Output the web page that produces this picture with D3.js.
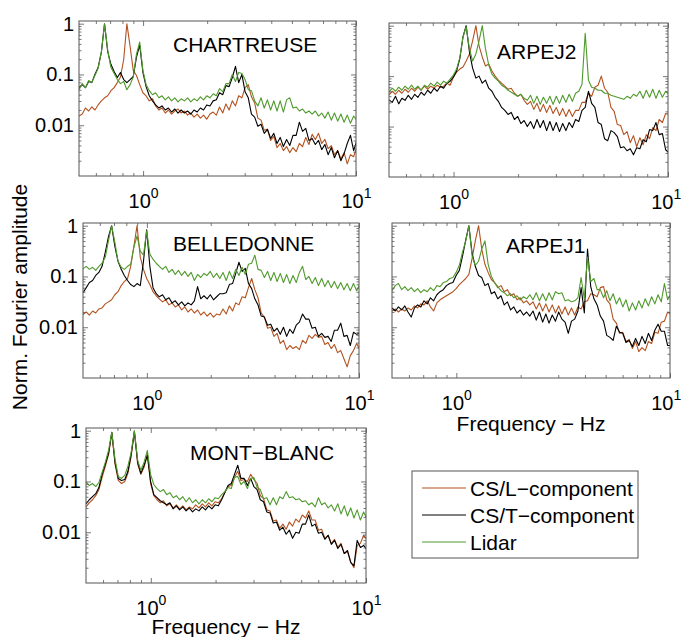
<!DOCTYPE html>
<html><head><meta charset="utf-8">
<script src="https://cdn.jsdelivr.net/npm/d3@7"></script>
<style>
body{margin:0;background:#fff}
svg{display:block}
text{font-family:"Liberation Sans",Arial,Helvetica,sans-serif;fill:#000}
</style>
</head><body>
<svg id="c" width="682" height="637"></svg>
<script>
// Frequency bins (Hz), shared by every spectrum
const FREQ = [
0.500,0.518,0.536,0.555,0.574,0.594,0.615,0.637,0.659,0.682,0.706,
0.731,0.757,0.783,0.811,0.839,0.869,0.899,0.931,0.964,0.998,1.033,
1.069,1.107,1.145,1.186,1.227,1.271,1.315,1.361,1.409,1.459,1.510,
1.563,1.618,1.675,1.734,1.795,1.858,1.923,1.991,2.061,2.133,2.208,
2.285,2.366,2.449,2.535,2.624,2.716,2.812,2.911,3.013,3.119,3.228,
3.342,3.459,3.581,3.707,3.837,3.972,4.111,4.256,4.405,4.560,4.720,
4.886,5.058,5.236,5.420,5.610,5.807,6.011,6.223,6.441,6.668,6.902,
7.144,7.396,7.655,7.924,8.203,8.491,8.790,9.099,9.418,9.749,10.09];

// Spectra: log10 of the normalised Fourier amplitude, one value per FREQ bin
const chartreuseL = [
-1.82,-1.78,-1.66,-1.72,-1.64,-1.70,-1.60,-1.52,-1.46,-1.42,-1.32,
-1.26,-1.16,-1.05,-0.70,0.00,-0.45,-0.92,-1.02,-1.20,-1.36,-1.42,
-1.52,-1.48,-1.62,-1.70,-1.66,-1.76,-1.70,-1.78,-1.72,-1.68,-1.76,
-1.72,-1.80,-1.76,-1.84,-1.78,-1.86,-1.80,-1.88,-1.78,-1.74,-1.80,
-1.64,-1.76,-1.58,-1.70,-1.52,-1.62,-1.42,-1.46,-1.26,-1.20,-1.44,
-1.56,-1.86,-1.90,-2.10,-2.08,-2.30,-2.22,-2.44,-2.36,-2.50,-2.42,
-2.54,-2.44,-2.52,-2.36,-2.42,-2.24,-2.38,-2.18,-2.28,-2.16,-2.36,
-2.28,-2.46,-2.40,-2.58,-2.50,-2.66,-2.54,-2.76,-2.58,-2.62,-2.42];
const chartreuseT = [
-1.26,-1.20,-1.26,-1.14,-1.16,-1.00,-0.86,-0.56,0.00,-0.55,-0.80,
-0.94,-1.06,-0.96,-1.10,-1.16,-1.10,-1.04,-0.66,-0.42,-0.96,-1.24,
-1.42,-1.52,-1.60,-1.66,-1.62,-1.70,-1.66,-1.74,-1.68,-1.76,-1.70,
-1.76,-1.72,-1.78,-1.70,-1.74,-1.66,-1.70,-1.60,-1.62,-1.52,-1.50,
-1.36,-1.40,-1.22,-1.24,-1.06,-0.84,-1.16,-1.00,-1.34,-1.46,-1.78,
-1.84,-2.02,-1.98,-2.16,-2.08,-2.26,-2.16,-2.36,-2.24,-2.42,-2.28,
-2.40,-2.20,-2.20,-1.94,-2.12,-2.06,-2.30,-2.26,-2.38,-2.30,-2.48,
-2.38,-2.58,-2.44,-2.64,-2.50,-2.70,-2.56,-2.36,-2.20,-2.50,-2.30];
const chartreuseLidar = [
-1.30,-1.18,-1.26,-1.12,-1.16,-1.02,-0.88,-0.55,0.00,-0.52,-0.86,
-0.98,-1.10,-1.18,-1.14,-1.30,-1.20,-1.05,-0.60,-0.36,-0.92,-1.20,
-1.32,-1.40,-1.36,-1.46,-1.42,-1.50,-1.44,-1.52,-1.46,-1.54,-1.48,
-1.52,-1.46,-1.54,-1.48,-1.52,-1.44,-1.50,-1.42,-1.46,-1.38,-1.42,
-1.28,-1.34,-1.18,-1.18,-1.00,-1.14,-0.96,-0.98,-1.10,-1.30,-1.32,
-1.52,-1.62,-1.46,-1.66,-1.50,-1.70,-1.52,-1.72,-1.52,-1.74,-1.50,
-1.46,-1.66,-1.64,-1.72,-1.68,-1.76,-1.72,-1.78,-1.72,-1.82,-1.76,
-1.86,-1.74,-1.90,-1.76,-1.92,-1.78,-1.94,-1.80,-1.96,-1.82,-1.90];

const arpej2L = [
-1.37,-1.30,-1.36,-1.28,-1.34,-1.26,-1.32,-1.24,-1.30,-1.22,-1.28,
-1.20,-1.26,-1.20,-1.24,-1.18,-1.22,-1.20,-1.14,-1.18,-1.02,-0.92,
-0.86,-0.82,-0.70,-0.56,-0.30,0.00,-0.40,-0.62,-0.80,-0.76,-0.90,
-1.00,-1.08,-1.14,-1.20,-1.26,-1.24,-1.34,-1.40,-1.36,-1.48,-1.56,
-1.50,-1.66,-1.54,-1.70,-1.56,-1.72,-1.58,-1.74,-1.62,-1.78,-1.64,
-1.80,-1.66,-1.80,-1.68,-1.68,-1.52,-1.52,-1.34,-1.40,-1.22,-1.18,
-1.00,-1.24,-1.32,-1.62,-1.70,-1.96,-1.98,-2.16,-2.10,-2.32,-2.18,
-2.40,-2.22,-2.36,-2.16,-2.24,-2.02,-2.08,-1.86,-1.92,-1.74,-1.76];
const arpej2T = [
-1.47,-1.52,-1.40,-1.55,-1.44,-1.48,-1.38,-1.46,-1.36,-1.42,-1.32,
-1.38,-1.28,-1.34,-1.24,-1.30,-1.20,-1.24,-1.14,-1.10,-1.02,-0.90,
-0.66,-0.22,0.00,-0.52,-0.84,-1.04,-1.00,-1.14,-1.08,-1.24,-1.30,
-1.42,-1.50,-1.62,-1.68,-1.76,-1.72,-1.86,-1.80,-1.94,-1.88,-2.00,
-1.90,-2.04,-1.86,-2.02,-1.88,-2.08,-1.90,-2.08,-1.92,-2.10,-1.94,
-2.08,-1.92,-2.02,-1.86,-1.90,-1.68,-1.62,-1.30,-1.54,-1.62,-1.92,
-1.96,-2.24,-2.28,-2.08,-2.12,-2.20,-2.42,-2.40,-2.48,-2.44,-2.56,
-2.42,-2.44,-2.26,-2.30,-2.06,-2.08,-1.92,-2.16,-2.14,-2.46,-2.52];
const arpej2Lidar = [
-1.31,-1.24,-1.30,-1.22,-1.28,-1.20,-1.26,-1.18,-1.26,-1.20,-1.28,
-1.18,-1.22,-1.14,-1.20,-1.12,-1.18,-1.10,-1.14,-1.06,-0.98,-0.86,
-0.64,-0.22,-0.02,-0.46,-0.70,-0.56,-0.30,0.00,-0.46,-0.78,-0.96,
-1.04,-1.10,-1.18,-1.22,-1.28,-1.32,-1.36,-1.40,-1.36,-1.44,-1.48,
-1.38,-1.54,-1.40,-1.56,-1.42,-1.54,-1.40,-1.56,-1.40,-1.54,-1.38,
-1.52,-1.36,-1.50,-1.34,-1.30,-1.16,-0.15,-1.08,-1.22,-1.24,-1.28,
-1.28,-1.34,-1.34,-1.38,-1.40,-1.42,-1.44,-1.46,-1.40,-1.44,-1.36,
-1.40,-1.30,-1.44,-1.28,-1.42,-1.26,-1.44,-1.28,-1.42,-1.30,-1.36];

const belledonneL = [
-1.75,-1.70,-1.76,-1.68,-1.72,-1.64,-1.62,-1.54,-1.50,-1.46,-1.36,
-1.30,-1.18,-1.10,-1.04,-0.80,-0.40,0.00,-0.62,-0.86,-1.04,-1.16,
-1.30,-1.38,-1.44,-1.50,-1.46,-1.56,-1.52,-1.60,-1.56,-1.66,-1.60,
-1.70,-1.64,-1.72,-1.66,-1.76,-1.70,-1.78,-1.72,-1.80,-1.74,-1.76,
-1.64,-1.74,-1.58,-1.68,-1.52,-1.56,-1.40,-1.42,-1.22,-1.04,-1.26,
-1.42,-1.72,-1.80,-2.02,-2.00,-2.18,-2.12,-2.32,-2.26,-2.44,-2.36,
-2.42,-2.38,-2.44,-2.26,-2.32,-2.16,-2.22,-2.14,-2.20,-2.18,-2.34,
-2.30,-2.42,-2.34,-2.50,-2.46,-2.62,-2.78,-2.56,-2.46,-2.32,-2.44];
const belledonneT = [
-1.32,-1.22,-1.12,-1.08,-0.98,-0.92,-0.80,-0.52,-0.22,0.00,-0.40,
-0.70,-0.86,-0.98,-1.08,-1.16,-1.20,-1.14,-1.18,-0.70,-0.08,-0.80,
-1.22,-1.34,-1.40,-1.36,-1.46,-1.42,-1.52,-1.48,-1.56,-1.50,-1.58,
-1.52,-1.56,-1.48,-1.20,-1.44,-1.38,-1.44,-1.36,-1.46,-1.40,-1.34,
-1.34,-1.32,-1.16,-1.14,-0.94,-0.72,-0.90,-0.84,-1.14,-1.24,-1.44,
-1.56,-1.78,-1.80,-1.96,-1.94,-2.08,-2.02,-2.14,-2.00,-2.18,-2.04,
-2.12,-1.96,-1.90,-1.74,-1.84,-1.84,-2.02,-2.00,-2.18,-2.12,-2.20,
-2.18,-2.28,-2.06,-2.06,-1.92,-2.18,-2.16,-2.36,-2.10,-2.14,-2.12];
const belledonneLidar = [
-0.85,-0.80,-0.86,-0.82,-0.88,-0.80,-0.74,-0.62,-0.30,0.00,-0.32,
-0.70,-0.82,-0.86,-0.80,-0.76,-0.42,-0.20,-0.50,-0.58,-0.10,-0.56,
-0.66,-0.74,-0.80,-0.86,-0.80,-0.92,-0.86,-0.96,-0.88,-0.98,-0.90,
-1.00,-0.92,-1.08,-0.96,-1.02,-0.94,-0.98,-0.90,-1.02,-0.94,-1.04,
-0.92,-1.08,-0.90,-1.04,-0.86,-0.98,-0.82,-0.96,-0.76,-0.74,-0.58,
-0.86,-0.88,-1.02,-0.90,-1.08,-0.92,-1.10,-0.94,-1.12,-0.96,-1.14,
-0.98,-1.12,-0.92,-0.80,-1.06,-1.00,-1.14,-1.02,-1.18,-1.04,-1.20,
-1.08,-1.22,-1.10,-1.24,-1.12,-1.26,-1.14,-1.28,-1.14,-1.28,-1.16];

const arpej1L = [
-1.68,-1.64,-1.70,-1.64,-1.68,-1.62,-1.66,-1.58,-1.62,-1.54,-1.56,
-1.48,-1.60,-1.68,-1.52,-1.46,-1.42,-1.38,-1.34,-1.30,-1.24,-1.16,
-1.10,-1.04,-0.96,-0.64,-0.30,0.00,-0.46,-0.76,-0.92,-1.06,-1.12,
-1.22,-1.18,-1.30,-1.26,-1.38,-1.34,-1.46,-1.42,-1.52,-1.48,-1.56,
-1.50,-1.64,-1.52,-1.68,-1.54,-1.70,-1.56,-1.72,-1.58,-1.74,-1.60,
-1.76,-1.62,-1.76,-1.60,-1.64,-1.50,-1.48,-1.34,-1.36,-1.40,-1.22,
-1.20,-1.46,-1.54,-1.84,-1.92,-2.12,-2.10,-2.28,-2.24,-2.42,-2.28,
-2.48,-2.40,-2.46,-2.28,-2.32,-2.10,-2.12,-1.90,-1.88,-1.70,-1.74];
const arpej1T = [
-1.62,-1.68,-1.60,-1.66,-1.58,-1.70,-1.80,-1.62,-1.56,-1.60,-1.48,
-1.54,-1.42,-1.48,-1.36,-1.30,-1.26,-1.18,-1.14,-1.12,-0.98,-0.88,
-0.60,-0.28,0.00,-0.55,-0.80,-0.98,-1.02,-1.18,-1.14,-1.34,-1.30,
-1.44,-1.38,-1.56,-1.50,-1.66,-1.60,-1.72,-1.66,-1.76,-1.70,-1.78,
-1.68,-1.86,-1.70,-1.90,-1.74,-1.92,-1.76,-1.88,-1.70,-1.84,-1.90,
-2.12,-1.88,-1.84,-1.68,-1.22,-1.72,-0.46,-1.20,-1.44,-1.56,-1.78,
-1.88,-2.16,-2.20,-2.26,-1.98,-2.10,-2.12,-2.30,-2.26,-2.38,-2.22,
-2.36,-2.18,-2.32,-2.12,-2.26,-2.06,-1.94,-2.08,-2.08,-2.36,-2.36];
const arpej1Lidar = [
-1.28,-1.18,-1.14,-1.26,-1.20,-1.28,-1.22,-1.30,-1.24,-1.32,-1.26,
-1.30,-1.22,-1.28,-1.18,-1.20,-1.12,-1.10,-1.04,-1.02,-0.92,-0.78,
-0.52,-0.30,0.00,-0.60,-0.78,-0.70,-0.46,-0.30,-0.76,-1.00,-1.12,
-1.20,-1.28,-1.32,-1.38,-1.34,-1.42,-1.38,-1.46,-1.40,-1.44,-1.36,
-1.46,-1.32,-1.48,-1.34,-1.48,-1.32,-1.46,-1.30,-1.34,-1.32,-1.48,
-1.46,-1.50,-1.48,-1.42,-1.02,-1.44,-0.62,-1.10,-1.04,-1.26,-1.26,
-1.42,-1.28,-1.48,-1.34,-1.54,-1.42,-1.60,-1.46,-1.68,-1.52,-1.66,
-1.48,-1.62,-1.44,-1.58,-1.40,-1.54,-1.36,-1.50,-1.14,-1.46,-1.34];

const montblancL = [
-1.50,-1.42,-1.36,-1.28,-1.16,-0.92,-0.70,-0.46,-0.04,-0.66,-0.98,
-1.04,-1.00,-0.84,-0.50,0.00,-0.66,-0.86,-0.72,-0.46,-1.04,-1.28,
-1.36,-1.42,-1.38,-1.48,-1.44,-1.52,-1.46,-1.54,-1.48,-1.56,-1.50,
-1.54,-1.46,-1.52,-1.44,-1.50,-1.42,-1.48,-1.40,-1.42,-1.34,-1.22,
-1.10,-1.08,-0.92,-0.80,-0.98,-0.96,-1.00,-0.86,-0.96,-1.04,-1.28,
-1.34,-1.56,-1.58,-1.78,-1.76,-1.92,-1.84,-1.94,-1.80,-1.88,-1.74,
-1.80,-1.66,-1.72,-1.58,-1.76,-1.76,-1.96,-1.94,-2.12,-2.06,-2.22,
-2.14,-2.30,-2.22,-2.42,-2.38,-2.58,-2.70,-2.26,-2.22,-2.06,-2.14];
const montblancT = [
-1.44,-1.36,-1.30,-1.24,-1.12,-0.86,-0.66,-0.44,-0.03,-0.62,-0.94,
-0.98,-0.96,-0.80,-0.46,-0.02,-0.62,-0.84,-0.68,-0.48,-1.00,-1.26,
-1.32,-1.38,-1.42,-1.46,-1.42,-1.54,-1.48,-1.56,-1.50,-1.58,-1.52,
-1.60,-1.54,-1.58,-1.50,-1.56,-1.48,-1.54,-1.46,-1.48,-1.36,-1.22,
-1.08,-1.04,-0.86,-0.68,-0.94,-0.94,-1.08,-0.94,-1.10,-1.16,-1.36,
-1.40,-1.60,-1.62,-1.82,-1.80,-1.96,-1.90,-2.04,-1.96,-2.12,-2.00,
-2.02,-1.84,-1.84,-1.66,-1.88,-1.84,-2.02,-2.00,-2.14,-2.06,-2.24,
-2.16,-2.32,-2.24,-2.42,-2.36,-2.60,-2.66,-2.16,-2.30,-2.26,-2.34];
const montblancLidar = [
-1.01,-1.08,-1.04,-1.10,-1.02,-0.82,-0.62,-0.38,-0.03,-0.56,-0.90,
-0.94,-0.88,-0.70,-0.42,0.00,-0.58,-0.78,-0.62,-0.39,-0.86,-1.06,
-1.14,-1.20,-1.16,-1.26,-1.22,-1.32,-1.28,-1.36,-1.30,-1.40,-1.32,
-1.42,-1.36,-1.44,-1.36,-1.42,-1.34,-1.40,-1.32,-1.34,-1.26,-1.20,
-1.12,-1.14,-0.92,-0.90,-1.06,-1.00,-1.14,-0.94,-0.92,-1.12,-1.16,
-1.34,-1.32,-1.46,-1.32,-1.46,-1.30,-1.34,-1.20,-1.32,-1.30,-1.36,
-1.34,-1.40,-1.38,-1.46,-1.42,-1.50,-1.32,-1.46,-1.42,-1.52,-1.46,
-1.58,-1.44,-1.64,-1.48,-1.68,-1.52,-1.72,-1.56,-1.76,-1.60,-1.74];

const SERIES_NAMES = ["CS/L\u2212component", "CS/T\u2212component", "Lidar"];
const SERIES_COLORS = ["#b3521f", "#000000", "#4f9a2c"];
const PANEL_NAMES = ["CHARTREUSE", "ARPEJ2", "BELLEDONNE", "ARPEJ1", "MONT\u2212BLANC"];
const PANEL_SERIES = [
  [chartreuseL, chartreuseT, chartreuseLidar],
  [arpej2L, arpej2T, arpej2Lidar],
  [belledonneL, belledonneT, belledonneLidar],
  [arpej1L, arpej1T, arpej1Lidar],
  [montblancL, montblancT, montblancLidar]
];
const X_DOMAIN = [0.5, 10];
const Y_DOMAIN = [0.001, 1.13];
const X_MAJOR = [1, 10];
const X_MINOR = [0.6, 0.7, 0.8, 0.9, 2, 3, 4, 5, 6, 7, 8, 9];
const Y_MAJOR = [0.01, 0.1, 1];
const Y_MINOR = [0.002,0.003,0.004,0.005,0.006,0.007,0.008,0.009,
                 0.02,0.03,0.04,0.05,0.06,0.07,0.08,0.09,
                 0.2,0.3,0.4,0.5,0.6,0.7,0.8,0.9];
const X_TICK_LABELS = [{v: 1, base: "10", exp: "0"}, {v: 10, base: "10", exp: "1"}];
const Y_TICK_LABELS = [{v: 1, t: "1"}, {v: 0.1, t: "0.1"}, {v: 0.01, t: "0.01"}];
const X_TITLE = "Frequency \u2212 Hz";
const Y_TITLE = "Norm. Fourier amplitude";

// layout (pixels)
const LAYOUT = [
  {x0: 79,  x1: 356, y0: 21,  y1: 176, yLab: true,  tx: 173, ty: 52,  xTitle: false},
  {x0: 389, x1: 668, y0: 23,  y1: 177, yLab: false, tx: 497, ty: 59,  xTitle: false},
  {x0: 83,  x1: 359, y0: 223, y1: 378, yLab: true,  tx: 173, ty: 251, xTitle: false},
  {x0: 392, x1: 670, y0: 223, y1: 378, yLab: false, tx: 506, ty: 253, xTitle: true, xtY: 431},
  {x0: 86,  x1: 366, y0: 428, y1: 583, yLab: true,  tx: 190, ty: 460, xTitle: true, xtY: 634}
];
const W = 682;

const svg = d3.select("#c");
const defs = svg.append("defs");
const FRAME = "#555";

LAYOUT.forEach((L, k) => {
  const x = d3.scaleLog().domain(X_DOMAIN).range([L.x0, L.x1]);
  const y = d3.scaleLog().domain(Y_DOMAIN).range([L.y1, L.y0]);
  const g = svg.append("g");
  const cid = "clip" + k;
  defs.append("clipPath").attr("id", cid).append("rect")
    .attr("x", L.x0).attr("y", L.y0).attr("width", L.x1 - L.x0).attr("height", L.y1 - L.y0);

  const line = d3.line().x((d, i) => x(FREQ[i])).y(d => y(Math.pow(10, d)));
  const gl = g.append("g").attr("clip-path", `url(#${cid})`);
  PANEL_SERIES[k].forEach((arr, j) => {
    gl.append("path").attr("d", line(arr)).attr("fill", "none")
      .attr("stroke", SERIES_COLORS[j]).attr("stroke-width", 1.1)
      .attr("stroke-linejoin", "round");
  });

  function ticks(axisFn, scale, vals, len, tr) {
    g.append("g").attr("transform", tr)
      .call(axisFn(scale).tickValues(vals).tickSizeInner(-len).tickSizeOuter(0).tickFormat(""))
      .call(s => { s.select(".domain").remove(); s.selectAll("text").remove();
        s.selectAll("line").attr("stroke", FRAME).attr("stroke-width", 0.8); });
  }
  ticks(d3.axisBottom, x, X_MAJOR, 5, `translate(0,${L.y1})`);
  ticks(d3.axisBottom, x, X_MINOR, 3, `translate(0,${L.y1})`);
  ticks(d3.axisTop, x, X_MAJOR, 5, `translate(0,${L.y0})`);
  ticks(d3.axisTop, x, X_MINOR, 3, `translate(0,${L.y0})`);
  ticks(d3.axisLeft, y, Y_MAJOR, 5, `translate(${L.x0},0)`);
  ticks(d3.axisLeft, y, Y_MINOR, 2.5, `translate(${L.x0},0)`);
  ticks(d3.axisRight, y, Y_MAJOR, 5, `translate(${L.x1},0)`);
  ticks(d3.axisRight, y, Y_MINOR, 2.5, `translate(${L.x1},0)`);

  g.append("rect").attr("x", L.x0).attr("y", L.y0)
    .attr("width", L.x1 - L.x0).attr("height", L.y1 - L.y0)
    .attr("fill", "none").attr("stroke", FRAME).attr("stroke-width", 1);

  // x tick labels 10^0, 10^1
  const xl = g.append("g").attr("transform", `translate(0,${L.y1})`)
    .call(d3.axisBottom(x).tickValues(X_TICK_LABELS.map(d => d.v)).tickSize(0).tickFormat(""));
  xl.select(".domain").remove();
  xl.selectAll(".tick text").each(function(d) {
    const lab = X_TICK_LABELS.find(t => t.v === d);
    const t = d3.select(this).attr("y", 32).attr("dy", null)
      .attr("text-anchor", "middle").attr("font-size", 20).attr("font-family", null).attr("fill", "#000");
    t.append("tspan").text(lab.base);
    t.append("tspan").attr("font-size", 14).attr("dy", -10).text(lab.exp);
    const bb = this.getBBox();
    const right = x(d) + bb.x + bb.width;
    if (right > W - 1) t.attr("x", (W - 1) - right);
  });

  if (L.yLab) {
    const yl = g.append("g").attr("transform", `translate(${L.x0},0)`)
      .call(d3.axisLeft(y).tickValues(Y_TICK_LABELS.map(d => d.v)).tickSize(0).tickPadding(5)
        .tickFormat(v => Y_TICK_LABELS.find(t => t.v === v).t));
    yl.select(".domain").remove();
    yl.selectAll("text").attr("font-size", 20).attr("font-family", null).attr("fill", "#000");
  }

  g.append("text").attr("x", L.tx).attr("y", L.ty).attr("font-size", 21).text(PANEL_NAMES[k]);

  if (L.xTitle) {
    g.append("text").attr("x", (L.x0 + L.x1) / 2).attr("y", L.xtY)
      .attr("text-anchor", "middle").attr("font-size", 21).text(X_TITLE);
  }
});

svg.append("text").attr("transform", "translate(27,297) rotate(-90)")
  .attr("text-anchor", "middle").attr("font-size", 21).text(Y_TITLE);

// legend
const lg = svg.append("g");
lg.append("rect").attr("x", 412).attr("y", 471).attr("width", 226).attr("height", 87)
  .attr("fill", "#fff").attr("stroke", FRAME).attr("stroke-width", 1);
SERIES_NAMES.forEach((n, j) => {
  const yy = 488 + j * 27;
  lg.append("line").attr("x1", 422).attr("x2", 466).attr("y1", yy).attr("y2", yy)
    .attr("stroke", SERIES_COLORS[j]).attr("stroke-width", 1);
  lg.append("text").attr("x", 470).attr("y", yy).attr("dy", "0.36em")
    .attr("font-size", 21).text(n);
});
</script>
</body></html>
